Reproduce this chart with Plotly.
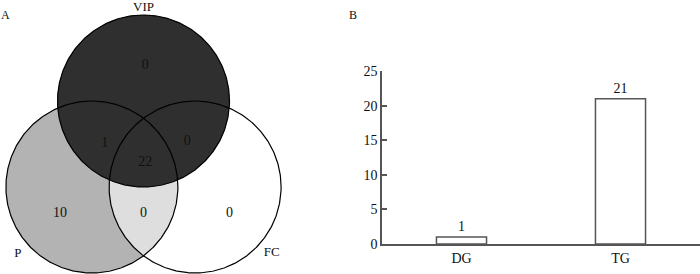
import numpy as np
import plotly.graph_objects as go

# ---------------- data ----------------
set_names = ["VIP", "P", "FC"]
# region counts
region_names = ["VIP only", "VIP&P", "VIP&FC", "all", "P only", "P&FC", "FC only"]
region_counts = [0, 1, 0, 22, 10, 0, 0]

bar_categories = ["DG", "TG"]
bar_values = [1, 21]
y_ticks = [0, 5, 10, 15, 20, 25]

# ---------------- venn layout (unit circles) ----------------
R = 1.0
centers = {"VIP": (0.0, 0.0), "P": (-0.6, -1.0), "FC": (0.6, -1.0)}
label_pos = [(0.02, 0.41), (-0.45, -0.49), (0.51, -0.47), (0.02, -0.71),
             (-0.97, -1.31), (0.0, -1.31), (1.0, -1.31)]
set_label_pos = {"VIP": (0.0, 1.085), "P": (-1.46, -1.78), "FC": (1.49, -1.77)}

FONT = "Liberation Serif"


def circle_pts(cx, cy, r, a0=0, a1=2 * np.pi, n=200):
    t = np.linspace(a0, a1, n)
    return cx + r * np.cos(t), cy + r * np.sin(t)


fig = go.Figure()

# FC fill (white), P fill (gray)
for name, col in [("FC", "white"), ("P", "#b3b3b3")]:
    x, y = circle_pts(*centers[name], R)
    fig.add_trace(go.Scatter(x=x, y=y, fill="toself", fillcolor=col, mode="none",
                             hoverinfo="skip", showlegend=False, xaxis="x", yaxis="y"))

# lens P & FC
(px, py), (fx, fy) = centers["P"], centers["FC"]
d = np.hypot(fx - px, fy - py)
half = np.arccos(d / (2 * R))
base = np.arctan2(fy - py, fx - px)
x1, y1 = circle_pts(px, py, R, base - half, base + half)
x2, y2 = circle_pts(fx, fy, R, base + np.pi - half, base + np.pi + half)
fig.add_trace(go.Scatter(x=np.r_[x1, x2], y=np.r_[y1, y2], fill="toself", fillcolor="#dedede",
                         mode="none", hoverinfo="skip", showlegend=False, xaxis="x", yaxis="y"))

# VIP fill (dark)
x, y = circle_pts(*centers["VIP"], R)
fig.add_trace(go.Scatter(x=x, y=y, fill="toself", fillcolor="#2f2f2f", mode="none",
                         hoverinfo="skip", showlegend=False, xaxis="x", yaxis="y"))

# outlines
for name in set_names:
    x, y = circle_pts(*centers[name], R, n=400)
    fig.add_trace(go.Scatter(x=x, y=y, mode="lines", line=dict(color="black", width=1.2),
                             hoverinfo="skip", showlegend=False, xaxis="x", yaxis="y"))

# region counts
fig.add_trace(go.Scatter(x=[p[0] for p in label_pos], y=[p[1] for p in label_pos],
                         text=[str(c) for c in region_counts], mode="text",
                         textfont=dict(family=FONT, size=14, color="#111"),
                         hoverinfo="skip", showlegend=False, xaxis="x", yaxis="y"))
# set names
fig.add_trace(go.Scatter(x=[set_label_pos[n][0] for n in set_names],
                         y=[set_label_pos[n][1] for n in set_names],
                         text=set_names, mode="text",
                         textfont=dict(family=FONT, size=13, color="#111"),
                         hoverinfo="skip", showlegend=False, xaxis="x", yaxis="y"))

# ---------------- bar chart ----------------
fig.add_trace(go.Bar(x=bar_categories, y=bar_values, width=0.315,
                     marker=dict(color="white", line=dict(color="#555", width=1.5)),
                     text=[str(v) for v in bar_values], textposition="outside",
                     textfont=dict(family=FONT, size=14, color="#111"),
                     cliponaxis=False, showlegend=False, xaxis="x2", yaxis="y2"))

W, H = 700, 274
scale = 86.0  # px per unit
vip_px = (143.5, 101.0)
venn_w = 300.0
fig.update_layout(
    width=W, height=H, margin=dict(l=0, r=0, t=0, b=0, autoexpand=False),
    paper_bgcolor="white", plot_bgcolor="white",
    font=dict(family=FONT, size=14, color="#111"),
    xaxis=dict(domain=[0, venn_w / W], range=[-vip_px[0] / scale, (venn_w - vip_px[0]) / scale],
               visible=False, fixedrange=True, automargin=False),
    yaxis=dict(domain=[0, 1], range=[-(H - vip_px[1]) / scale, vip_px[1] / scale],
               visible=False, fixedrange=True, automargin=False),
    xaxis2=dict(domain=[382 / W, 1.0], range=[-0.5, 1.5], anchor="y2", automargin=False,
                showline=True, linecolor="#555", linewidth=1.5, ticks="",
                showgrid=False, zeroline=False, tickfont=dict(family=FONT, size=14, color="#111")),
    yaxis2=dict(domain=[30 / H, 203 / H], range=[0, 25], anchor="x2", automargin=False,
                showline=True, linecolor="#555", linewidth=1.5,
                ticks="inside", ticklen=5, tickcolor="#555", tickwidth=1.5,
                tickvals=y_ticks, showgrid=False, zeroline=False,
                tickfont=dict(family=FONT, size=14, color="#111")),
    annotations=[
        dict(text="A", x=5 / W, y=1 - 15 / H, xref="paper", yref="paper", showarrow=False,
             xanchor="center", yanchor="middle",
             font=dict(family=FONT, size=12, color="#111")),
        dict(text="B", x=353 / W, y=1 - 15 / H, xref="paper", yref="paper", showarrow=False,
             xanchor="center", yanchor="middle",
             font=dict(family=FONT, size=12, color="#111")),
    ],
)

fig.write_html("out.html", config={"displayModeBar": False},
               post_script="document.body.style.margin='0';document.body.style.overflow='hidden';")
